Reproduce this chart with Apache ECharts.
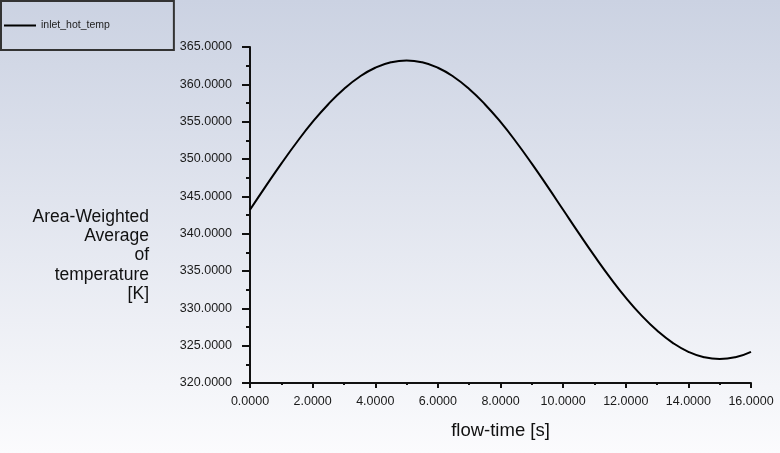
<!DOCTYPE html>
<html>
<head>
<meta charset="utf-8">
<script src="https://cdn.jsdelivr.net/npm/echarts@6/dist/echarts.min.js"></script>
<style>
  html, body { margin: 0; padding: 0; }
  #chart { width: 780px; height: 453px; }
</style>
</head>
<body>
<div id="chart"></div>
<script>
// flow-time [s] and area-weighted average temperature [K]
var flowTime = [0, 0.5, 1, 1.5, 2, 2.5, 3, 3.5, 4, 4.5, 5, 5.5, 6, 6.5, 7, 7.5, 8,
                8.5, 9, 9.5, 10, 10.5, 11, 11.5, 12, 12.5, 13, 13.5, 14, 14.5, 15, 15.5, 16];
var inletHotTemp = [343.20, 346.33, 349.38, 352.28, 354.96, 357.34, 359.38, 361.02, 362.22, 362.95,
                    363.20, 362.95, 362.22, 361.02, 359.38, 357.34, 354.96, 352.28, 349.38, 346.33,
                    343.20, 340.07, 337.02, 334.12, 331.44, 329.06, 327.02, 325.38, 324.18, 323.45,
                    323.20, 323.45, 324.18];
var seriesName = 'inlet_hot_temp';
var xTitle = 'flow-time [s]';
var yTitle = 'Area-Weighted\nAverage\nof\ntemperature\n[K]';

var FONT = 'Arial, "Liberation Sans", sans-serif';

var myChart = echarts.init(document.getElementById('chart'));

var option = {
    backgroundColor: {
        type: 'linear', x: 0, y: 0, x2: 0, y2: 1,
        colorStops: [
            { offset: 0, color: '#cbd2e2' },
            { offset: 1, color: '#fbfbfd' }
        ]
    },
    animation: false,
    textStyle: { fontFamily: FONT },
    grid: { left: 250, right: 29, top: 47, bottom: 70 },
    legend: {
        left: 1,
        top: 1,
        orient: 'vertical',
        padding: [19, 64, 19, 3],
        borderColor: '#333',
        borderWidth: 2,
        itemWidth: 32,
        itemHeight: 2,
        icon: 'rect',
        textStyle: { fontSize: 10.5, color: '#222', fontFamily: FONT },
        data: [seriesName]
    },
    graphic: [{
        type: 'text',
        x: 149,
        y: 207,
        style: {
            text: yTitle,
            align: 'right',
            verticalAlign: 'top',
            fontSize: 17.5,
            lineHeight: 19.4,
            fontFamily: FONT,
            fill: '#111'
        }
    }],
    xAxis: {
        type: 'value',
        min: 0,
        max: 16,
        interval: 2,
        name: xTitle,
        nameLocation: 'middle',
        nameGap: 38,
        nameTextStyle: { fontSize: 18.5, color: '#111', fontFamily: FONT },
        splitLine: { show: false },
        axisLine: { show: true, lineStyle: { color: '#111', width: 2 } },
        axisTick: { show: true, length: 5, lineStyle: { color: '#111', width: 2 } },
        minorTick: { show: true, splitNumber: 2, length: 2, lineStyle: { color: '#111', width: 2 } },
        axisLabel: {
            margin: 12,
            fontSize: 12.5,
            color: '#1a1a1a',
            fontFamily: FONT,
            formatter: function (v) { return v.toFixed(4); }
        }
    },
    yAxis: {
        type: 'value',
        min: 320,
        max: 365,
        interval: 5,
        splitLine: { show: false },
        axisLine: { show: true, lineStyle: { color: '#111', width: 2 } },
        axisTick: { show: true, length: 8, lineStyle: { color: '#111', width: 2 } },
        minorTick: { show: true, splitNumber: 2, length: 4, lineStyle: { color: '#111', width: 2 } },
        axisLabel: {
            margin: 18,
            fontSize: 12.5,
            color: '#1a1a1a',
            fontFamily: FONT,
            formatter: function (v) { return v.toFixed(4); }
        }
    },
    series: [{
        name: seriesName,
        type: 'line',
        smooth: true,
        showSymbol: false,
        color: '#000',
        lineStyle: { color: '#000', width: 2 },
        data: flowTime.map(function (t, i) { return [t, inletHotTemp[i]]; })
    }]
};

myChart.setOption(option);
</script>
</body>
</html>
